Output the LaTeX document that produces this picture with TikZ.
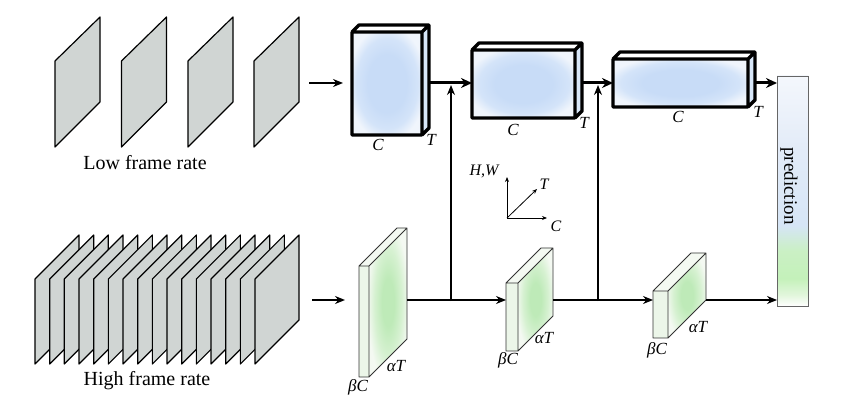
\documentclass[tikz,border=0pt]{standalone}
\usepackage{fontspec}
\setmainfont{Liberation Serif}
\usetikzlibrary{arrows.meta}
\definecolor{framegray}{RGB}{208,213,211}
\definecolor{boxin}{RGB}{200,220,247}
\definecolor{boxmid}{RGB}{212,228,249}
\definecolor{boxout}{RGB}{240,245,252}
\definecolor{greenin}{RGB}{190,234,184}
\definecolor{greenmid}{RGB}{214,241,209}
\definecolor{greenout}{RGB}{244,249,242}
\definecolor{greenfront}{RGB}{236,246,233}
\definecolor{predgA}{RGB}{226,246,220}
\definecolor{predgB}{RGB}{196,241,186}
\definecolor{predgC}{RGB}{202,240,196}
\definecolor{predbA}{RGB}{214,229,246}
\definecolor{predbB}{RGB}{226,235,248}
\definecolor{predbC}{RGB}{244,247,252}
\pgfdeclareverticalshading{predshade}{100bp}{color(0bp)=(white); color(25bp)=(white); color(27.4bp)=(predgA); color(31bp)=(predgB); color(37bp)=(predgC); color(42.5bp)=(predbA); color(58.5bp)=(predbB); color(75bp)=(predbC); color(100bp)=(predbC)}
\pgfdeclareradialshading{boxshade}{\pgfpoint{0bp}{0bp}}{color(0bp)=(boxin); color(14bp)=(boxin); color(22bp)=(boxmid); color(28bp)=(boxout); color(50bp)=(boxout)}
\pgfdeclareradialshading{greenshade}{\pgfpoint{0bp}{0bp}}{color(0bp)=(greenin); color(8bp)=(greenin); color(18bp)=(greenmid); color(27bp)=(greenout); color(50bp)=(greenout)}
\newcommand\TopBox[4]{%
  \shade[shading=boxshade] (#1,#2) rectangle (#3,#4);
  \fill[white] (#1,#2) -- ({#1+7},{#2-7}) -- ({#3+7},{#2-7}) -- (#3,#2) -- cycle;
  \fill[boxin!70!white] (#3,#2) -- ({#3+7},{#2-7}) -- ({#3+7},{#4-7}) -- (#3,#4) -- cycle;
  \draw[line width=3.4pt, line join=round] (#1,#2) rectangle (#3,#4)
    (#1,#2) -- ({#1+7},{#2-7}) -- ({#3+7},{#2-7}) -- ({#3+7},{#4-7}) -- (#3,#4)
    (#3,#2) -- ({#3+7},{#2-7});
}
\newcommand\SlabBox[5]{%
  \fill[greenfront] (#1,#2) rectangle (#3,#4);
  \shade[shading=greenshade] (#3,#2) -- ({#3+#5},{#2-#5}) -- ({#3+#5},{#4-#5}) -- (#3,#4) -- cycle;
  \fill[greenout] (#1,#2) -- ({#1+#5},{#2-#5}) -- ({#3+#5},{#2-#5}) -- (#3,#2) -- cycle;
  \draw[line width=0.9pt, black!80, line join=round] (#1,#2) rectangle (#3,#4)
    (#1,#2) -- ({#1+#5},{#2-#5}) -- ({#3+#5},{#2-#5}) -- ({#3+#5},{#4-#5}) -- (#3,#4)
    (#3,#2) -- ({#3+#5},{#2-#5});
}
\tikzset{
  frame/.style={fill=framegray, draw=black, line width=1.2pt, line join=round},
  dimlabel/.style={font=\fontsize{17}{17}\selectfont\itshape, inner sep=0pt},
  axlabel/.style={font=\fontsize{16}{16}\selectfont\itshape, inner sep=0pt},
  biglabel/.style={font=\fontsize{20}{20}\selectfont, inner sep=0pt},
  thickarrow/.style={line width=3pt, -{Stealth[length=11pt,width=10pt]}},
  midarrow/.style={line width=2pt, -{Stealth[length=10pt,width=8pt]}},
  thinarrow/.style={line width=1.5pt, -{Stealth[length=10pt,width=8pt]}},
  axisarrow/.style={line width=0.8pt, -{Stealth[length=5pt,width=4pt]}},
}
\begin{document}
\begin{tikzpicture}[x=1pt,y=-1pt]
\useasboundingbox (0,0) rectangle (850,411);
\fill[white] (0,0) rectangle (850,411);
% low frame rate frames
\foreach \xx in {55,121.5,188,254}{
  \draw[frame] (\xx,147) -- (\xx,61) -- ({\xx+45},17) -- ({\xx+45},102) -- cycle;
}
\node[biglabel] (lowlbl) at (145,163) {Low frame rate};
% high frame rate frames
\foreach \i in {0,...,15}{
  \pgfmathsetmacro\xx{35+14.67*\i}
  \draw[frame] (\xx,364) -- (\xx,279) -- ({\xx+44},235) -- ({\xx+44},320) -- cycle;
}
\node[biglabel] (highlbl) at (147,381) {High frame rate};
% input arrows
\coordinate (lowin) at (309,83);
\coordinate (lowout) at (343,83);
\draw[midarrow] (lowin) -- (lowout);
\coordinate (highin) at (312,300);
\coordinate (highout) at (345,300);
\draw[midarrow] (highin) -- (highout);
% top boxes
\TopBox{352}{32}{422}{135}
\TopBox{472}{50}{575}{118}
\TopBox{613}{59}{748}{107}
\node[dimlabel] (c1) at (378,145) {C};
\node[dimlabel] (t1) at (431,140) {T};
\node[dimlabel] (c2) at (513,130) {C};
\node[dimlabel] (t2) at (584,123) {T};
\node[dimlabel] (c3) at (678,117) {C};
\node[dimlabel] (t3) at (758,112) {T};
% bottom slabs
\SlabBox{359}{266}{369}{377}{38}
\SlabBox{506}{283}{518}{351}{35}
\SlabBox{653}{291}{668}{338}{38}
\node[dimlabel] (bc1) at (358,387) {βC};
\node[dimlabel] (at1) at (396,366) {αT};
\node[dimlabel] (bc2) at (508,360) {βC};
\node[dimlabel] (at2) at (544,338) {αT};
\node[dimlabel] (bc3) at (657,350) {βC};
\node[dimlabel] (at3) at (698,327) {αT};
% prediction bar
\shade[shading=predshade] (777,76) rectangle (808,306);
\draw[line width=0.8pt, black!60] (777,76) rectangle (808,306);
\node[font=\fontsize{19}{19}\selectfont, rotate=-90, inner sep=0pt] (pred) at (789,186) {prediction};
% top connectors
\coordinate (b1out) at (429,83);
\coordinate (b2in) at (472,83);
\coordinate (b2out) at (581,83);
\coordinate (b3in) at (613,83);
\coordinate (b3out) at (755,83);
\coordinate (predtop) at (777,83);
\draw[thickarrow] (b1out) -- (b2in);
\draw[thickarrow] (b2out) -- (b3in);
\draw[thickarrow] (b3out) -- (predtop);
% bottom connectors
\coordinate (s1out) at (407,300);
\coordinate (s2in) at (506,300);
\coordinate (s2out) at (553,300);
\coordinate (s3in) at (653,300);
\coordinate (s3out) at (706,300);
\coordinate (predbot) at (777,300);
\draw[thinarrow] (s1out) -- (s2in);
\draw[thinarrow] (s2out) -- (s3in);
\draw[thinarrow] (s3out) -- (predbot);
% lateral connections
\coordinate (lat1b) at (451,301);
\coordinate (lat1t) at (451,85);
\coordinate (lat2b) at (598,301);
\coordinate (lat2t) at (598,85);
\draw[thinarrow] (lat1b) -- (lat1t);
\draw[thinarrow] (lat2b) -- (lat2t);
% axes
\coordinate (ax0) at (507,218);
\coordinate (axup) at (507,177);
\coordinate (axright) at (547,218);
\coordinate (axdiag) at (537,189);
\draw[axisarrow] (ax0) -- (axup);
\draw[axisarrow] (ax0) -- (axright);
\draw[axisarrow] (ax0) -- (axdiag);
\node[axlabel] (hw) at (484,171) {H,W};
\node[axlabel] (axT) at (544,184) {T};
\node[axlabel] (axC) at (556,226) {C};
\end{tikzpicture}
\end{document}
